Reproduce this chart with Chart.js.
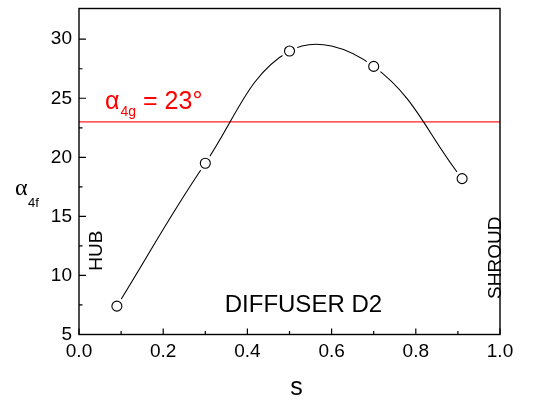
<!DOCTYPE html>
<html>
<head>
<meta charset="utf-8">
<script src="https://cdn.jsdelivr.net/npm/chart.js@4.4.1/dist/chart.umd.min.js"></script>
<style>
  html, body { margin: 0; padding: 0; background: #fff; }
  #wrap { width: 536px; height: 403px; }
</style>
</head>
<body>
<div id="wrap"><canvas id="alphaChart" width="536" height="403"></canvas></div>
<script>
// spanwise position s and flow angle alpha_4f
const sValues = [0.09, 0.30, 0.50, 0.70, 0.91];
const alphaValues = [7.4, 19.5, 29.0, 27.7, 18.2];
const alpha4g = 23;

const xTicks = [0, 0.2, 0.4, 0.6, 0.8, 1.0];
const xMinor = [0.1, 0.3, 0.5, 0.7, 0.9];
const yTicks = [5, 10, 15, 20, 25, 30];
const yMinor = [7.5, 12.5, 17.5, 22.5, 27.5];

const FONT = '"Liberation Sans", Arial, sans-serif';
const points = sValues.map((s, i) => ({ x: s, y: alphaValues[i] }));

// frame + inward tick marks + text labels
const decorations = {
    id: 'decorations',
    afterDraw(chart) {
        const ctx = chart.ctx;
        const a = chart.chartArea;
        const xs = chart.scales.x, ys = chart.scales.y;
        ctx.save();
        ctx.strokeStyle = '#000';
        ctx.lineWidth = 1.4;
        ctx.strokeRect(a.left, a.top, a.right - a.left, a.bottom - a.top);

        ctx.lineWidth = 1.2;
        ctx.beginPath();
        xTicks.forEach(v => { const p = xs.getPixelForValue(v); ctx.moveTo(p, a.bottom); ctx.lineTo(p, a.bottom - 6); });
        xMinor.forEach(v => { const p = xs.getPixelForValue(v); ctx.moveTo(p, a.bottom); ctx.lineTo(p, a.bottom - 3.5); });
        yTicks.forEach(v => { const p = ys.getPixelForValue(v); ctx.moveTo(a.left, p); ctx.lineTo(a.left + 7, p); });
        yMinor.forEach(v => { const p = ys.getPixelForValue(v); ctx.moveTo(a.left, p); ctx.lineTo(a.left + 3.5, p); });
        ctx.stroke();

        // alpha_4g label above the red line
        ctx.fillStyle = '#ff0000';
        ctx.textBaseline = 'alphabetic';
        ctx.textAlign = 'left';
        let tx = xs.getPixelForValue(0.062);
        let ty = ys.getPixelForValue(24.05);
        ctx.font = '25px ' + FONT;
        ctx.fillText('α', tx, ty);
        tx += ctx.measureText('α').width + 1;
        ctx.font = '14px ' + FONT;
        ctx.fillText('4g', tx, ty + 7);
        tx += ctx.measureText('4g').width;
        ctx.font = '25px ' + FONT;
        ctx.fillText(' = 23°', tx, ty);

        // y axis title alpha_4f
        ctx.fillStyle = '#000';
        ctx.font = '24px "Liberation Serif", serif';
        ctx.fillText('α', 15, 195);
        ctx.font = '13px ' + FONT;
        ctx.fillText('4f', 28, 207);

        // x axis title
        ctx.textAlign = 'center';
        ctx.font = '25px ' + FONT;
        ctx.fillText('s', (a.left + a.right) / 2 + 7, 395);

        ctx.textBaseline = 'middle';
        ctx.font = '24px ' + FONT;
        ctx.fillText('DIFFUSER D2', xs.getPixelForValue(0.533), ys.getPixelForValue(7.5));

        ctx.font = '19px ' + FONT;
        [['HUB', 0.043, 12.1], ['SHROUD', 0.989, 11.5]].forEach(([t, sx, sy]) => {
            ctx.save();
            ctx.translate(xs.getPixelForValue(sx), ys.getPixelForValue(sy));
            ctx.rotate(-Math.PI / 2);
            ctx.fillText(t, 0, 0);
            ctx.restore();
        });
        ctx.restore();
    }
};

new Chart(document.getElementById('alphaChart'), {
    type: 'line',
    data: {
        datasets: [
            {   // open circle markers
                data: points, showLine: false, order: 0,
                pointRadius: 5, pointBorderWidth: 1.1,
                pointBackgroundColor: '#fff', pointBorderColor: '#000'
            },
            {   // white gap around each marker
                data: points, showLine: false, order: 1,
                pointRadius: 8.5, pointBorderWidth: 0,
                pointBackgroundColor: '#fff', pointBorderColor: '#fff'
            },
            {   // fitted curve
                data: points, order: 2, tension: 0.4,
                borderColor: '#000', borderWidth: 1.1, pointRadius: 0, fill: false
            },
            {   // alpha_4g reference line
                data: [{ x: 0, y: alpha4g }, { x: 1, y: alpha4g }], order: 3,
                borderColor: '#ff2020', borderWidth: 1.1, pointRadius: 0, fill: false
            }
        ]
    },
    options: {
        responsive: false,
        animation: false,
        layout: { padding: { top: 7, right: 36, left: 0, bottom: 0 } },
        plugins: { legend: { display: false }, tooltip: { enabled: false } },
        scales: {
            x: {
                type: 'linear', min: 0, max: 1,
                afterBuildTicks: s => { s.ticks = xTicks.map(v => ({ value: v })); },
                afterFit: s => { s.height = 68.5; s.paddingLeft = 0; s.paddingRight = 0; },
                grid: { display: false, drawTicks: false },
                border: { display: false },
                ticks: { color: '#000', font: { family: FONT, size: 19 }, padding: 6,
                         callback: v => v.toFixed(1) }
            },
            y: {
                type: 'linear', min: 5, max: 32.6,
                afterBuildTicks: s => { s.ticks = yTicks.map(v => ({ value: v })); },
                afterFit: s => { s.width = 79; s.paddingTop = 0; s.paddingBottom = 0; },
                grid: { display: false, drawTicks: false },
                border: { display: false },
                ticks: { color: '#000', font: { family: FONT, size: 19 }, padding: 7 }
            }
        }
    },
    plugins: [decorations]
});
</script>
</body>
</html>
